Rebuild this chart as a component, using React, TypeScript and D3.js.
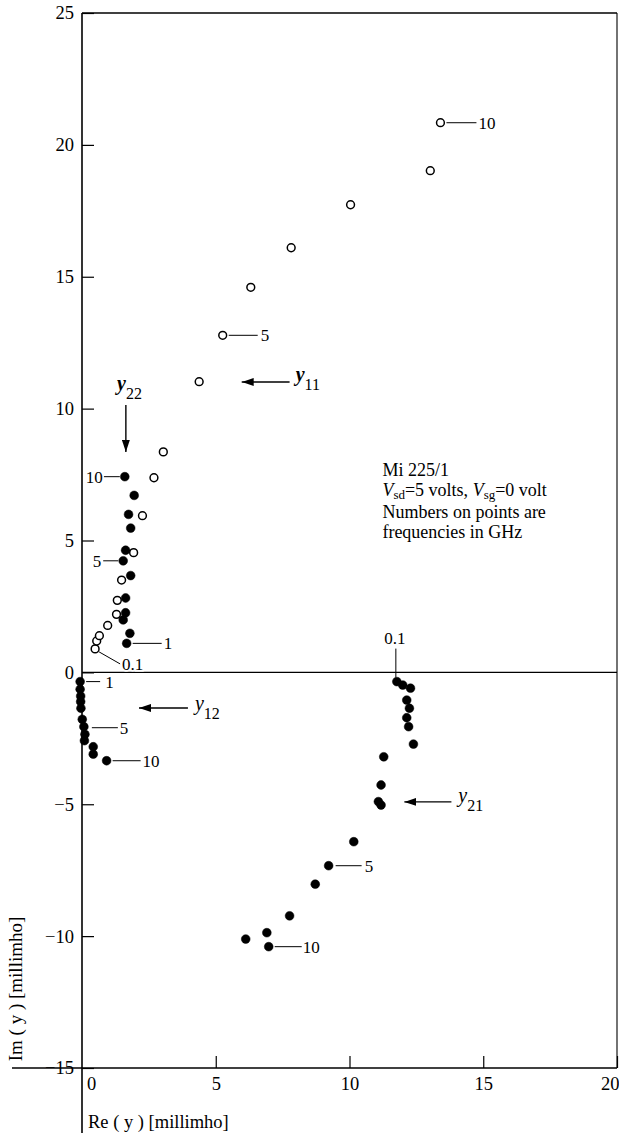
import React, { useEffect, useRef } from 'react'
import * as d3 from 'd3'

const W = 619
const H = 1135

const xTicks = [0, 5, 10, 15, 20]
const yTicks = [25, 20, 15, 10, 5, 0, -5, -10, -15]

// [Re(y), Im(y)] in millimho
const y11 = [
  [0.49, 0.89], [0.55, 1.19], [0.65, 1.39], [0.96, 1.78], [1.29, 2.2], [1.32, 2.73],
  [1.48, 3.5], [1.93, 4.54], [2.26, 5.94], [2.69, 7.38], [3.04, 8.36], [4.38, 11.02],
  [5.26, 12.78], [6.31, 14.6], [7.82, 16.1], [10.04, 17.73], [13.02, 19.02], [13.4, 20.84],
]
const y22 = [
  [1.67, 1.1], [1.79, 1.48], [1.54, 1.99], [1.63, 2.26], [1.63, 2.82], [1.82, 3.67],
  [1.54, 4.23], [1.63, 4.63], [1.82, 5.47], [1.74, 5.99], [1.95, 6.71], [1.6, 7.42],
]
const y12 = [
  [-0.07, -0.35], [-0.07, -0.64], [-0.05, -0.9], [-0.05, -1.11], [-0.04, -1.36], [0.01, -1.78],
  [0.07, -2.06], [0.11, -2.35], [0.09, -2.59], [0.42, -2.82], [0.42, -3.1], [0.92, -3.35],
]
const y21 = [
  [11.77, -0.35], [11.99, -0.48], [12.28, -0.6], [12.14, -1.05], [12.24, -1.36], [12.14, -1.72],
  [12.21, -2.06], [12.39, -2.72], [11.28, -3.2], [11.18, -4.27], [11.08, -4.9], [11.18, -5.03],
  [10.16, -6.42], [9.22, -7.33], [8.72, -8.03], [7.76, -9.23], [6.91, -9.87], [6.12, -10.11],
  [6.98, -10.4],
]

const FONT = '"Liberation Serif", "Times New Roman", serif'

export default function App() {
  const ref = useRef<SVGSVGElement>(null)

  useEffect(() => {
    const svg = d3.select(ref.current)
    svg.selectAll('*').remove()

    const x = d3.scaleLinear().domain([0, 20]).range([82, 617])
    const y = d3.scaleLinear().domain([-15, 25]).range([1068, 13])

    svg.append('rect').attr('width', W).attr('height', H).attr('fill', '#fff')

    svg.append('defs').append('marker')
      .attr('id', 'arr')
      .attr('markerUnits', 'userSpaceOnUse')
      .attr('markerWidth', 12).attr('markerHeight', 8)
      .attr('refX', 12).attr('refY', 4)
      .attr('orient', 'auto')
      .append('path').attr('d', 'M0,0 L12,4 L0,8 z').attr('fill', '#000')

    const g = svg.append('g').attr('font-family', FONT)

    // axes with inward ticks
    const yAxis = g.append('g')
      .attr('transform', `translate(${x(0)},0)`)
      .call(d3.axisLeft(y).tickValues(yTicks).tickSize(-12).tickSizeOuter(0).tickPadding(8)
        .tickFormat(d => (+d < 0 ? '\u2212' + -d : String(d))))
    yAxis.select('.domain').remove()
    yAxis.selectAll('text').attr('font-size', 18.5).attr('font-family', FONT).attr('fill', '#000')
    yAxis.selectAll('line').attr('stroke', '#000').attr('stroke-width', 1.2)

    const xAxis = g.append('g')
      .attr('transform', `translate(0,${y(-15)})`)
      .call(d3.axisBottom(x).tickValues(xTicks).tickSize(-12).tickSizeOuter(0).tickPadding(9))
    xAxis.select('.domain').remove()
    xAxis.selectAll('text').attr('font-size', 18.5).attr('font-family', FONT).attr('fill', '#000')
    xAxis.selectAll('line').attr('stroke', '#000').attr('stroke-width', 1.2)
    xAxis.selectAll('.tick').filter(d => d === 0).select('text').attr('x', 9)
    xAxis.selectAll('.tick').filter(d => d === 0).select('line').remove()
    xAxis.selectAll('.tick').filter(d => d === 20).select('text').attr('text-anchor', 'end').attr('x', 2)

    // frame
    const frame = g.append('g').attr('stroke', '#000').attr('fill', 'none')
    frame.append('line').attr('x1', x(0)).attr('x2', x(0)).attr('y1', y(25)).attr('y2', H - 2).attr('stroke-width', 1.6)
    frame.append('line').attr('x1', 12).attr('x2', x(20)).attr('y1', y(-15)).attr('y2', y(-15)).attr('stroke-width', 1.6)
    frame.append('line').attr('x1', x(0)).attr('x2', x(20)).attr('y1', y(25)).attr('y2', y(25)).attr('stroke-width', 1.6)
    frame.append('line').attr('x1', x(20)).attr('x2', x(20)).attr('y1', y(25)).attr('y2', y(-15)).attr('stroke-width', 1.1)
    frame.append('line').attr('x1', x(0)).attr('x2', x(20)).attr('y1', y(0)).attr('y2', y(0)).attr('stroke-width', 1.3)

    // axis titles
    g.append('text').attr('x', 88).attr('y', 1128).attr('font-size', 18.5).text('Re ( y ) [millimho]')
    g.append('text').attr('transform', 'translate(22,989) rotate(-90)')
      .attr('text-anchor', 'middle').attr('font-size', 19).text('Im ( y ) [millimho]')

    // points
    const pts = g.append('g')
    const drawSeries = (data: number[][], open: boolean) => {
      pts.selectAll(null).data(data).enter().append('circle')
        .attr('cx', d => x(d[0])).attr('cy', d => y(d[1]))
        .attr('r', open ? 3.9 : 4.4)
        .attr('fill', open ? '#fff' : '#000')
        .attr('stroke', '#000').attr('stroke-width', open ? 1.5 : 0.5)
    }
    drawSeries(y11, true)
    drawSeries(y22, false)
    drawSeries(y12, false)
    drawSeries(y21, false)

    // frequency labels with leader lines
    const lab = g.append('g').attr('font-size', 17)
    const leader = (p: number[], l: number[], t: number[], text: string, anchor = 'start') => {
      const px = x(p[0]), py = y(p[1])
      lab.append('line')
        .attr('x1', px + l[0]).attr('y1', py + l[1]).attr('x2', px + l[2]).attr('y2', py + l[3])
        .attr('stroke', '#000').attr('stroke-width', 1)
      lab.append('text').attr('x', px + t[0]).attr('y', py + t[1]).attr('text-anchor', anchor)
        .attr('stroke', '#fff').attr('stroke-width', 3).attr('paint-order', 'stroke')
        .text(text)
    }
    leader(y11[0], [4, 3, 25, 15], [27, 21], '0.1')
    leader(y11[12], [6, 0, 35, 0], [38, 6], '5')
    leader(y11[17], [6, 0, 36, 0], [38, 6], '10')
    leader(y22[11], [-5, 0, -21, 0], [-22, 6], '10', 'end')
    leader(y22[6], [-5, 0, -20, 0], [-22, 6], '5', 'end')
    leader(y22[0], [6, 0, 35, 0], [37, 6], '1')
    leader(y12[0], [6, 0, 20, 0], [25, 6], '1')
    leader(y12[6], [8, 1, 34, 1], [36, 7], '5')
    leader(y12[11], [6, 0, 34, 0], [36, 6], '10')
    leader(y21[0], [-1, -4, -1, -33], [-2, -38], '0.1', 'middle')
    leader(y21[13], [7, 0, 33, 0], [36, 6], '5')
    leader(y21[18], [6, 0, 33, 0], [34, 6], '10')

    // series arrows and names
    const arrows = g.append('g')
    const arrow = (x1: number, y1: number, x2: number, y2: number) => {
      arrows.append('line')
        .attr('x1', x(x1)).attr('y1', y(y1)).attr('x2', x(x2)).attr('y2', y(y2))
        .attr('stroke', '#000').attr('stroke-width', 1.4).attr('marker-end', 'url(#arr)')
    }
    const name = (xv: number, yv: number, sub: string, bold: boolean) => {
      const t = arrows.append('text').attr('x', x(xv)).attr('y', y(yv))
        .attr('font-size', 20).attr('font-style', 'italic').attr('font-weight', bold ? 'bold' : 'normal')
      t.append('tspan').text('y')
      t.append('tspan').attr('dy', 9).attr('font-size', 16).attr('font-style', 'normal')
        .attr('font-weight', 'normal').text(sub)
    }
    arrow(1.64, 10.14, 1.64, 8.36)
    name(1.31, 10.72, '22', true)
    arrow(7.76, 11.01, 5.97, 11.01)
    name(7.99, 11.06, '11', true)
    arrow(3.96, -1.35, 2.13, -1.35)
    name(4.22, -1.42, '12', false)
    arrow(13.81, -4.91, 12.05, -4.91)
    name(14.07, -4.91, '21', false)

    // note
    const note = g.append('g').attr('font-size', 18)
    const nx = x(11.23)
    const ny = y(7.45)
    note.append('text').attr('x', nx).attr('y', ny).text('Mi 225/1')
    const l2 = note.append('text').attr('x', nx).attr('y', ny + 20)
    l2.append('tspan').attr('font-style', 'italic').text('V')
    l2.append('tspan').attr('font-size', 13).attr('dy', 3).text('sd')
    l2.append('tspan').attr('dy', -3).text('=5 volts, ')
    l2.append('tspan').attr('font-style', 'italic').text('V')
    l2.append('tspan').attr('font-size', 13).attr('dy', 3).text('sg')
    l2.append('tspan').attr('dy', -3).text('=0 volt')
    note.append('text').attr('x', nx).attr('y', ny + 42).text('Numbers on points are')
    note.append('text').attr('x', nx).attr('y', ny + 62).text('frequencies in GHz')
  }, [])

  return (
    <svg
      ref={ref}
      width={W}
      height={H}
      style={{ position: 'absolute', left: 0, top: 0, display: 'block' }}
    />
  )
}
